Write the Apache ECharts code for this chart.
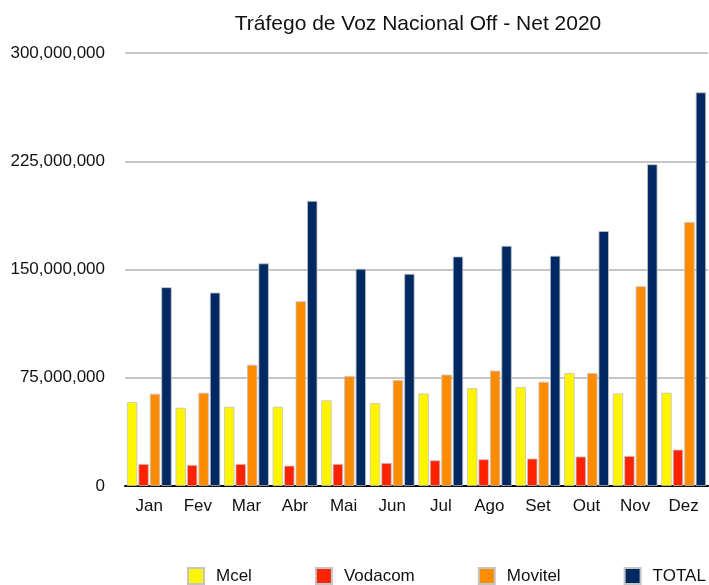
<!DOCTYPE html>
<html>
<head>
<meta charset="utf-8">
<script src="https://cdn.jsdelivr.net/npm/echarts@6/dist/echarts.min.js"></script>
<style>
  html, body { margin: 0; padding: 0; background: #fff; }
  #chart { width: 709px; height: 585px; }
</style>
</head>
<body>
<div id="chart"></div>
<script>
// data
const months = ["Jan", "Fev", "Mar", "Abr", "Mai", "Jun", "Jul", "Ago", "Set", "Out", "Nov", "Dez"];
const mcel = [58100000, 54200000, 54900000, 54900000, 59300000, 57400000, 64100000, 67800000, 68500000, 78200000, 64100000, 64600000];
const vodacom = [15300000, 14600000, 15300000, 14100000, 15300000, 16000000, 17800000, 18500000, 19000000, 20400000, 20800000, 25200000];
const movitel = [63900000, 64600000, 84000000, 128000000, 76200000, 73400000, 77100000, 79900000, 72200000, 78200000, 138400000, 182900000];
const total = [137700000, 134000000, 154200000, 197500000, 150500000, 147000000, 159000000, 166400000, 159500000, 176600000, 222900000, 272700000];
const yTicks = [0, 75000000, 150000000, 225000000, 300000000];

const font = "'Liberation Sans', Arial, sans-serif";
const chart = echarts.init(document.getElementById("chart"));

const fmt = (v) => v.toString().replace(/\B(?=(\d{3})+(?!\d))/g, ",");

const bar = (name, data, color) => ({
  name,
  type: "bar",
  data,
  barGap: "11%",
  barCategoryGap: "8%",
  itemStyle: { color, borderColor: "#c4c4c4", borderWidth: 0.8 },
});

const option = {
  animation: false,
  title: {
    text: "Tráfego de Voz Nacional Off - Net 2020",
    left: 413,
    textAlign: "center",
    top: 9,
    textStyle: { fontFamily: font, fontSize: 21, fontWeight: "normal", color: "#111" },
  },
  grid: { left: 125, right: 1, top: 53, bottom: 99 },
  legend: {
    bottom: 0,
    left: 187,
    width: 520,
    padding: 0,
    itemWidth: 16,
    itemHeight: 16,
    itemGap: 63,
    icon: "rect",
    textStyle: { fontFamily: font, fontSize: 17, color: "#111", padding: [0, 0, 0, 7] },
    data: ["Mcel", "Vodacom", "Movitel", "TOTAL"],
  },
  xAxis: {
    type: "category",
    data: months,
    axisTick: { show: false },
    axisLine: { lineStyle: { color: "#000", width: 2 } },
    axisLabel: { fontFamily: font, fontSize: 17, color: "#111", margin: 12 },
  },
  yAxis: {
    type: "value",
    min: yTicks[0],
    max: yTicks[yTicks.length - 1],
    interval: yTicks[1] - yTicks[0],
    axisLine: { show: false },
    axisTick: { show: false },
    splitLine: { lineStyle: { color: "#b3b3b3", width: 1.5 } },
    axisLabel: { fontFamily: font, fontSize: 17, color: "#111", margin: 20, formatter: fmt },
  },
  series: [
    bar("Mcel", mcel, "#FFF500"),
    bar("Vodacom", vodacom, "#FF2200"),
    bar("Movitel", movitel, "#FF8C00"),
    bar("TOTAL", total, "#002862"),
  ],
};

chart.setOption(option);
</script>
</body>
</html>
